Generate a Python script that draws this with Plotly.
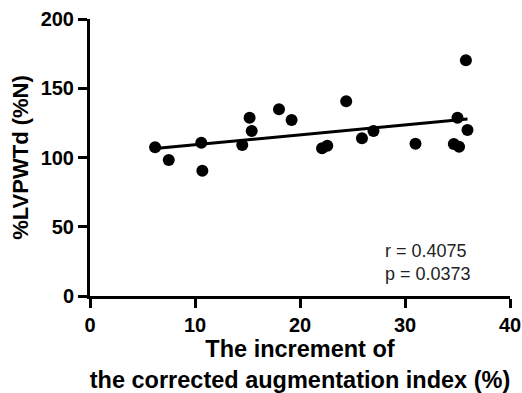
import numpy as np
import plotly.graph_objects as go

# Data
x_vals = [6.2, 7.5, 10.6, 10.7, 14.5, 15.2, 15.4, 18.0, 19.2, 22.1,
          22.6, 24.4, 25.9, 27.0, 31.0, 34.65, 35.15, 35.0, 35.95, 35.8]
y_vals = [107.4, 98.2, 110.7, 90.5, 109.0, 128.7, 119.1, 134.8, 127.1, 106.6,
          108.5, 140.6, 113.9, 119.1, 110.0, 109.7, 107.8, 128.7, 119.9, 170.2]
x_ticks = [0, 10, 20, 30, 40]
y_ticks = [0, 50, 100, 150, 200]
stats_text = ["r = 0.4075", "p = 0.0373"]

xa = np.array(x_vals)
ya = np.array(y_vals)
slope, intercept = np.polyfit(xa, ya, 1)
fit_x = np.array([xa.min(), xa.max()])
fit_y = slope * fit_x + intercept

FONT = "Arial, Liberation Sans, Helvetica, sans-serif"

fig = go.Figure()
fig.add_trace(go.Scatter(
    x=fit_x, y=fit_y, mode="lines",
    line=dict(color="black", width=3), showlegend=False, hoverinfo="skip"))
fig.add_trace(go.Scatter(
    x=x_vals, y=y_vals, mode="markers",
    marker=dict(color="black", size=12, line=dict(width=0)),
    showlegend=False))

fig.add_annotation(
    x=0.697, y=0.12, xref="paper", yref="paper",
    xanchor="left", yanchor="middle", align="left",
    text="<br>".join(stats_text), showarrow=False,
    font=dict(family=FONT, size=18, color="#222"))

axis_common = dict(
    showgrid=False, zeroline=False, showline=True, linecolor="black",
    linewidth=3, ticks="outside", ticklen=9, tickwidth=3, tickcolor="black",
    tickfont=dict(family=FONT, size=20, color="black", weight="bold"),
    automargin=False,
)

fig.update_xaxes(
    range=[0, 40], tickvals=x_ticks, **axis_common,
    title=dict(text="<b>The increment of<br>the corrected augmentation index (%)</b>",
               font=dict(family=FONT, size=23.5, color="black"), standoff=4))
fig.update_yaxes(
    range=[0, 200], tickvals=y_ticks, **axis_common,
    title=dict(text="<b>%LVPWTd (%N)</b>",
               font=dict(family=FONT, size=22, color="black"), standoff=6))

fig.update_layout(
    width=522, height=393,
    margin=dict(l=90, r=12, t=19, b=97),
    plot_bgcolor="white", paper_bgcolor="white",
)

fig.write_html("out.html")
